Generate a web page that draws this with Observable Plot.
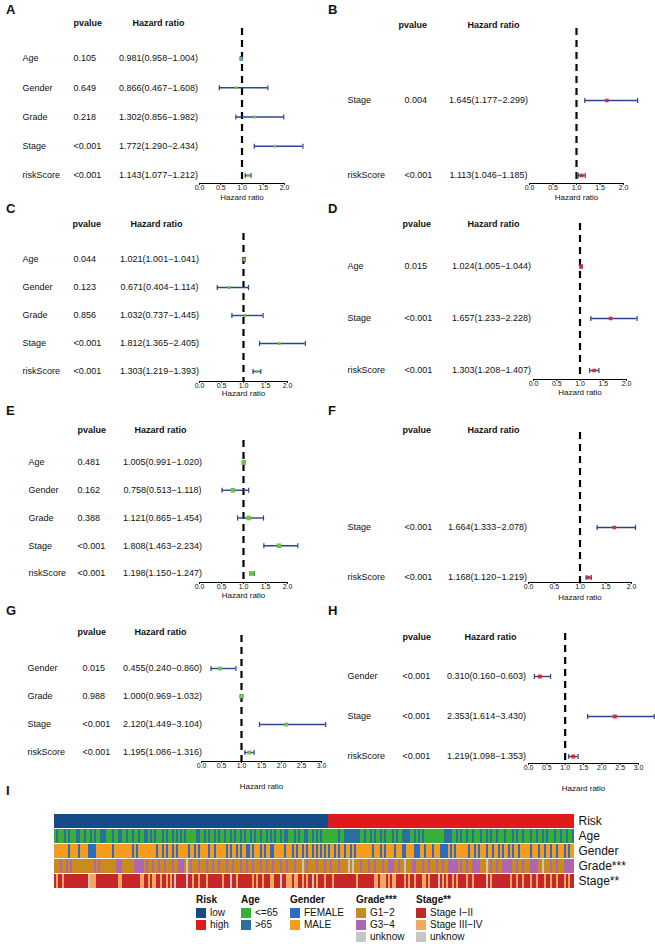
<!DOCTYPE html>
<html><head><meta charset="utf-8">
<script src="https://cdn.jsdelivr.net/npm/d3@7"></script>
<script src="https://cdn.jsdelivr.net/npm/@observablehq/plot@0.6"></script>
<style>
body{margin:0;background:#fff;font-family:"Liberation Sans",Arial,sans-serif;color:#111;}
#fig{position:relative;width:655px;height:944px;overflow:hidden;background:#fff;}
#fig svg{position:absolute;}
.letter{position:absolute;font-weight:bold;font-size:13px;transform:translateY(-50%);line-height:1;}
.lg{position:absolute;font-size:10px;line-height:1;white-space:nowrap;}
.lg .t{font-weight:bold;position:absolute;transform:translateY(-50%);}
.lg .it{position:absolute;transform:translateY(-50%);}
.lg .sw{position:absolute;width:10px;height:10px;transform:translateY(-50%);}
</style></head><body><div id="fig"></div>
<script>
// ---------------- forest plot data ----------------
const axisTicks2 = [0, 0.5, 1, 1.5, 2];
const axisTicks3 = [0, 0.5, 1, 1.5, 2, 2.5, 3];

const varsA = ["Age","Gender","Grade","Stage","riskScore"];
const pA = ["0.105","0.649","0.218","<0.001","<0.001"];
const hrA = [0.981,0.866,1.302,1.772,1.143];
const loA = [0.958,0.467,0.856,1.290,1.077];
const hiA = [1.004,1.608,1.982,2.434,1.212];

const varsB = ["Stage","riskScore"];
const pB = ["0.004","<0.001"];
const hrB = [1.645,1.113];
const loB = [1.177,1.046];
const hiB = [2.299,1.185];

const varsC = ["Age","Gender","Grade","Stage","riskScore"];
const pC = ["0.044","0.123","0.856","<0.001","<0.001"];
const hrC = [1.021,0.671,1.032,1.812,1.303];
const loC = [1.001,0.404,0.737,1.365,1.219];
const hiC = [1.041,1.114,1.445,2.405,1.393];

const varsD = ["Age","Stage","riskScore"];
const pD = ["0.015","<0.001","<0.001"];
const hrD = [1.024,1.657,1.303];
const loD = [1.005,1.233,1.208];
const hiD = [1.044,2.228,1.407];

const varsE = ["Age","Gender","Grade","Stage","riskScore"];
const pE = ["0.481","0.162","0.388","<0.001","<0.001"];
const hrE = [1.005,0.758,1.121,1.808,1.198];
const loE = [0.991,0.513,0.865,1.463,1.150];
const hiE = [1.020,1.118,1.454,2.234,1.247];

const varsF = ["Stage","riskScore"];
const pF = ["<0.001","<0.001"];
const hrF = [1.664,1.168];
const loF = [1.333,1.120];
const hiF = [2.078,1.219];

const varsG = ["Gender","Grade","Stage","riskScore"];
const pG = ["0.015","0.988","<0.001","<0.001"];
const hrG = [0.455,1.000,2.120,1.195];
const loG = [0.240,0.969,1.449,1.086];
const hiG = [0.860,1.032,3.104,1.316];

const varsH = ["Gender","Stage","riskScore"];
const pH = ["<0.001","<0.001","<0.001"];
const hrH = [0.310,2.353,1.219];
const loH = [0.160,1.614,1.098];
const hiH = [0.603,3.430,1.353];

// ---------------- heatmap data ----------------
const sampleCount = 260;
const rowNames = ["Risk","Age","Gender","Grade***","Stage**"];
const riskRuns = [["low",137],["high",123]];
const ageOver65 = [1,5,7,11,12,15,18,20,23,24,25,29,32,33,36,39,42,45,46,48,50,54,56,59,61,63,65,71,72,75,77,80,82,85,88,90,93,95,98,100,103,106,108,110,113,115,116,120,122,125,126,129,131,133,142,145,146,147,148,149,150,151,152,155,158,160,163,165,169,171,174,175,176,177,180,182,184,195,196,197,198,201,203,206,209,213,216,218,221,225,229,231,234,238,241,244,246,250,253,256,259];
const genderFemale = [7,12,17,18,19,20,29,39,41,51,54,56,59,61,67,70,72,77,80,86,88,91,93,96,97,99,103,105,108,109,115,119,121,124,126,129,131,133,135,137,140,142,145,148,150,159,163,165,170,174,175,180,181,182,185,189,193,194,195,196,198,200,207,210,212,216,219,222,224,227,229,232,238,242,245,248,251,255,257];
const gradeG34 = [3,6,8,20,22,31,32,33,40,41,42,43,44,46,49,52,55,59,62,63,64,68,72,76,79,82,86,89,93,96,99,103,106,109,113,116,120,126,131,135,138,142,153,157,160,164,167,168,169,172,179,180,184,187,191,194,197,198,199,200,201,203,206,209,210,211,212,218,221,224,225,226,227,228,231,234,238,239,240,241,248,251,255,256,257,258,259];
const gradeUnknown = [66,124,147,149,175,216,244];
const stageIIIIV = [1,4,18,19,20,32,33,43,44,47,49,50,53,56,58,69,72,76,84,91,99,101,104,108,109,116,117,118,120,121,124,126,131,135,139,151,160,161,163,164,165,167,169,170,175,177,180,184,185,187,194,196,199,201,206,209,218,228,231,234,238,241,245,248,251,255,257];
const stageUnknown = [17,60,66,88,113,129,192,216];

const legendGroups = [
  {title:"Risk", row:"Risk", items:["low","high"], x:196},
  {title:"Age", row:"Age", items:["<=65",">65"], x:241},
  {title:"Gender", row:"Gender", items:["FEMALE","MALE"], x:290},
  {title:"Grade***", row:"Grade***", items:["G1\u22122","G3\u22124","unknow"], x:356},
  {title:"Stage**", row:"Stage**", items:["Stage I\u2212II","Stage III\u2212IV","unknow"], x:416}
];
const colorKeys = ["Risk:low","Risk:high","Age:<=65","Age:>65","Gender:FEMALE","Gender:MALE",
  "Grade***:G1\u22122","Grade***:G3\u22124","Grade***:unknow","Stage**:Stage I\u2212II","Stage**:Stage III\u2212IV","Stage**:unknow"];
const colorVals = ["#164a88","#e0191b","#38b038","#2b6f9c","#2e6cc0","#f59b1e",
  "#c98b1c","#ae67ae","#c6c6c6","#c6262a","#f3a862","#c6c6c6"];

// ---------------- layout ----------------
const FONT = "'Liberation Sans', Arial, sans-serif";
const NAVY = "#2b4590";
const GREEN = "#6cc63b";
const RED = "#e8262b";
const fig = document.getElementById("fig");

const vbar = {draw(ctx, size){ const h = Math.sqrt(size/Math.PI); ctx.moveTo(0,-h); ctx.lineTo(0,h); }};

function forest(cfg, vars, pv, hr, lo, hi, ticks){
  const n = vars.length;
  const rows = vars.map((name,i)=>({name, p:pv[i], hr:hr[i], lo:lo[i], hi:hi[i], k:n-i,
    label:`${hr[i].toFixed(3)}(${lo[i].toFixed(3)}\u2212${hi[i].toFixed(3)})`}));
  const top = cfg.top, H = cfg.h, W = cfg.w;
  const mL = cfg.x0 - cfg.left, mR = W - (cfg.x1 - cfg.left);
  const mT = cfg.dashTop - top, mB = H - (cfg.axisY - top);
  const yRange = [cfg.rowBottom - top, cfg.rowTop - top];
  const yAxisVal = d3.scaleLinear([1,n], yRange).invert(cfg.axisY - top);
  const xmax = ticks[ticks.length-1];
  const svg = Plot.plot({
    width:W, height:H, marginLeft:mL, marginRight:mR, marginTop:mT, marginBottom:mB,
    style:{background:"none", fontFamily:FONT, color:"#111", overflow:"visible"},
    x:{domain:[0,xmax]},
    y:{domain:[1,n], range:yRange, axis:null},
    marks:[
      Plot.ruleX([1], {stroke:"#000", strokeWidth:2.2, strokeDasharray:"7,5"}),
      Plot.ruleY([yAxisVal], {x1:0, x2:xmax, stroke:"#000", strokeWidth:1}),
      Plot.axisX({ticks, tickFormat:d=>d.toFixed(1), tickSize:2, tickPadding:0, fontSize:7, label:null, anchor:"bottom"}),
      Plot.ruleY(rows, {y:"k", x1:"lo", x2:"hi", stroke:NAVY, strokeWidth:1.4}),
      Plot.dot(rows, {x:"lo", y:"k", symbol:vbar, r:2.6, stroke:NAVY, strokeWidth:1.2}),
      Plot.dot(rows, {x:"hi", y:"k", symbol:vbar, r:2.6, stroke:NAVY, strokeWidth:1.2}),
      Plot.dot(rows, {x:"hr", y:"k", symbol:"square", r:cfg.r, fill:cfg.color, stroke:"none"}),
      Plot.text(rows, {y:"k", text:"name", frameAnchor:"left", dx:cfg.nameX-cfg.x0, textAnchor:"start", fontSize:9}),
      Plot.text(rows, {y:"k", text:"p", frameAnchor:"left", dx:cfg.pX-cfg.x0, textAnchor:"start", fontSize:9}),
      Plot.text(rows, {y:"k", text:"label", frameAnchor:"left", dx:cfg.hrX-cfg.x0, textAnchor:"middle", fontSize:9}),
      Plot.text(["pvalue"], {frameAnchor:"top-left", dx:cfg.pHeadX-cfg.x0, dy:cfg.headY-cfg.dashTop, textAnchor:"start", fontWeight:"bold", fontSize:9}),
      Plot.text(["Hazard ratio"], {frameAnchor:"top-left", dx:cfg.hrHeadX-cfg.x0, dy:cfg.headY-cfg.dashTop, textAnchor:"middle", fontWeight:"bold", fontSize:9}),
      Plot.text(["Hazard ratio"], {frameAnchor:"bottom", dy:cfg.titleDy, fontSize:8})
    ]
  });
  svg.style.left = cfg.left + "px";
  svg.style.top = cfg.top + "px";
  fig.appendChild(svg);
  const L = document.createElement("div");
  L.className = "letter"; L.textContent = cfg.letter;
  L.style.left = cfg.lx + "px"; L.style.top = cfg.ly + "px";
  fig.appendChild(L);
}

const panels = [
  [{letter:"A",lx:6,ly:9,left:0,top:0,w:330,h:210,x0:199,x1:284,dashTop:28,rowTop:58,rowBottom:175,axisY:183,titleDy:16,headY:19,pHeadX:73,hrHeadX:158,nameX:22,pX:73,hrX:158,color:GREEN,r:1.6}, varsA,pA,hrA,loA,hiA,axisTicks2],
  [{letter:"B",lx:328,ly:9,left:325,top:0,w:330,h:210,x0:529,x1:623,dashTop:28,rowTop:100,rowBottom:175,axisY:183,titleDy:16,headY:21,pHeadX:398,hrHeadX:493,nameX:347,pX:404,hrX:488,color:RED,r:2}, varsB,pB,hrB,loB,hiB,axisTicks2],
  [{letter:"C",lx:6,ly:208,left:0,top:200,w:330,h:205,x0:199,x1:287,dashTop:233,rowTop:259,rowBottom:371,axisY:381,titleDy:14,headY:220,pHeadX:72,hrHeadX:156,nameX:22,pX:73,hrX:159,color:GREEN,r:1.6}, varsC,pC,hrC,loC,hiC,axisTicks2],
  [{letter:"D",lx:328,ly:208,left:325,top:200,w:330,h:205,x0:533,x1:626,dashTop:223,rowTop:266,rowBottom:370,axisY:379,titleDy:15,headY:220,pHeadX:402,hrHeadX:493,nameX:347,pX:404,hrX:491,color:RED,r:2}, varsD,pD,hrD,loD,hiD,axisTicks2],
  [{letter:"E",lx:6,ly:410,left:0,top:400,w:330,h:205,x0:199,x1:287,dashTop:440,rowTop:462,rowBottom:573,axisY:582,titleDy:15,headY:426,pHeadX:77,hrHeadX:160,nameX:28,pX:77,hrX:162,color:GREEN,r:2.6}, varsE,pE,hrE,loE,hiE,axisTicks2],
  [{letter:"F",lx:328,ly:410,left:325,top:400,w:330,h:205,x0:528,x1:631,dashTop:432,rowTop:527,rowBottom:577,axisY:582,titleDy:17,headY:426,pHeadX:402,hrHeadX:493,nameX:347,pX:404,hrX:487,color:RED,r:2}, varsF,pF,hrF,loF,hiF,axisTicks2],
  [{letter:"G",lx:6,ly:610,left:0,top:590,w:330,h:205,x0:201,x1:321,dashTop:635,rowTop:668,rowBottom:752,axisY:761,titleDy:27,headY:628,pHeadX:77,hrHeadX:160,nameX:27,pX:82,hrX:162,color:GREEN,r:2.2}, varsG,pG,hrG,loG,hiG,axisTicks3],
  [{letter:"H",lx:328,ly:610,left:325,top:590,w:330,h:205,x0:528,x1:638,dashTop:633,rowTop:676,rowBottom:756,axisY:763,titleDy:27,headY:633,pHeadX:402,hrHeadX:490,nameX:347,pX:402,hrX:486,color:RED,r:2.2}, varsH,pH,hrH,loH,hiH,axisTicks3]
];
for (const p of panels) forest(...p);

// ---------------- heatmap ----------------
const sets = {
  age: new Set(ageOver65), fem: new Set(genderFemale),
  g34: new Set(gradeG34), gun: new Set(gradeUnknown),
  s34: new Set(stageIIIIV), sun: new Set(stageUnknown)
};
const riskOf = [];
for (const [c,len] of riskRuns) for (let k=0;k<len;k++) riskOf.push(c);
const catOf = {
  "Risk": i => riskOf[i],
  "Age": i => sets.age.has(i) ? ">65" : "<=65",
  "Gender": i => sets.fem.has(i) ? "FEMALE" : "MALE",
  "Grade***": i => sets.gun.has(i) ? "unknow" : sets.g34.has(i) ? "G3\u22124" : "G1\u22122",
  "Stage**": i => sets.sun.has(i) ? "unknow" : sets.s34.has(i) ? "Stage III\u2212IV" : "Stage I\u2212II"
};
const runs = [];
for (const row of rowNames){
  let start = 0, cur = catOf[row](0);
  for (let i=1;i<=sampleCount;i++){
    const c = i < sampleCount ? catOf[row](i) : null;
    if (c !== cur){ runs.push({row, x1:start, x2:i, key:row+":"+cur}); start = i; cur = c; }
  }
}
const hm = Plot.plot({
  width:655, height:84, marginLeft:54, marginRight:81, marginTop:5, marginBottom:3,
  style:{background:"none", fontFamily:FONT, color:"#111"},
  x:{domain:[0,sampleCount], axis:null},
  y:{domain:rowNames, paddingInner:0.1, paddingOuter:0},
  color:{type:"ordinal", domain:colorKeys, range:colorVals},
  marks:[
    Plot.barX(runs, {x1:"x1", x2:"x2", y:"row", fill:"key", shapeRendering:"crispEdges"}),
    Plot.axisY({anchor:"right", tickSize:0, tickPadding:4, fontSize:12, label:null})
  ]
});
hm.style.left = "0px"; hm.style.top = "808px";
fig.appendChild(hm);
const LI = document.createElement("div");
LI.className = "letter"; LI.textContent = "I";
LI.style.left = "6px"; LI.style.top = "790px";
fig.appendChild(LI);

// ---------------- legend ----------------
const colorMap = new Map(colorKeys.map((k,i)=>[k,colorVals[i]]));
for (const g of legendGroups){
  const d = document.createElement("div");
  d.className = "lg"; d.style.left = g.x + "px"; d.style.top = "0px";
  const t = document.createElement("div"); t.className = "t"; t.textContent = g.title;
  t.style.left = "0px"; t.style.top = "900px"; d.appendChild(t);
  g.items.forEach((it,j)=>{
    const y = 913 + j*12;
    const s = document.createElement("div"); s.className = "sw";
    s.style.left = "0px"; s.style.top = y + "px"; s.style.background = colorMap.get(g.row+":"+it);
    d.appendChild(s);
    const tx = document.createElement("div"); tx.className = "it"; tx.textContent = it;
    tx.style.left = "14px"; tx.style.top = y + "px"; d.appendChild(tx);
  });
  fig.appendChild(d);
}
</script></body></html>
